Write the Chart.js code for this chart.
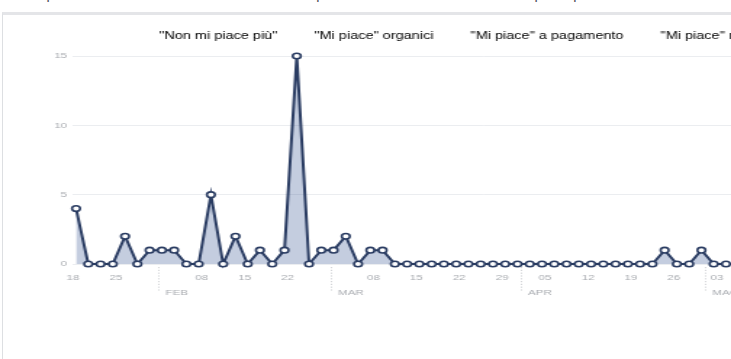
<!DOCTYPE html>
<html>
<head>
<meta charset="utf-8">
<script src="https://cdn.jsdelivr.net/npm/chart.js@4.4.1/dist/chart.umd.min.js"></script>
<style>
  body {
    margin: 0;
    width: 731px;
    height: 359px;
    overflow: hidden;
    position: relative;
    background: #fff;
    font-family: "Liberation Sans", Arial, sans-serif;
  }
  .title {
    position: absolute;
    left: 22px;
    top: -9.5px;
    font-size: 10px;
    line-height: 12px;
    color: #4b4f56;
    white-space: nowrap;
    transform: scaleX(1.45);
    transform-origin: left top;
  }
  .panel {
    position: absolute;
    left: 2px;
    top: 12px;
    width: 800px;
    height: 400px;
    border-top: 3px solid #e4e5e8;
    border-left: 1px solid #dddfe2;
  }
  .wrap {
    position: absolute;
    left: 0;
    top: 0;
  }
</style>
</head>
<body>
<div class="title">"Mi piace" netti: mostra il numero di nuovi "Mi piace" meno il numero di "Non mi piace più"</div>
<div class="panel"></div>
<!-- drawn at 626px wide, shown stretched to 908px -->
<div class="wrap"><canvas id="likes-chart" width="626" height="359" style="width:908px;height:359px"></canvas></div>

<script>
// one point every two days
const dates = [
    '2015-01-18', '2015-01-20', '2015-01-22', '2015-01-24', '2015-01-26', '2015-01-28', '2015-01-30',
    '2015-02-01', '2015-02-03', '2015-02-05', '2015-02-07', '2015-02-09', '2015-02-11', '2015-02-13',
    '2015-02-15', '2015-02-17', '2015-02-19', '2015-02-21', '2015-02-23', '2015-02-25', '2015-02-27',
    '2015-03-01', '2015-03-03', '2015-03-05', '2015-03-07', '2015-03-09', '2015-03-11', '2015-03-13',
    '2015-03-15', '2015-03-17', '2015-03-19', '2015-03-21', '2015-03-23', '2015-03-25', '2015-03-27',
    '2015-03-29', '2015-03-31', '2015-04-02', '2015-04-04', '2015-04-06', '2015-04-08', '2015-04-10',
    '2015-04-12', '2015-04-14', '2015-04-16', '2015-04-18', '2015-04-20', '2015-04-22', '2015-04-24',
    '2015-04-26', '2015-04-28', '2015-04-30', '2015-05-02', '2015-05-04', '2015-05-06'
];

const unlikes = [
    4, 0, 0, 0, 2, 0, 1,
    1, 1, 0, 0, 5, 0, 2,
    0, 1, 0, 1, 15, 0, 1,
    1, 2, 0, 1, 1, 0, 0,
    0, 0, 0, 0, 0, 0, 0,
    0, 0, 0, 0, 0, 0, 0,
    0, 0, 0, 0, 0, 0, 1,
    0, 0, 1, 0, 0, 0
];

const seriesNames = ['"Non mi piace più"', '"Mi piace" organici', '"Mi piace" a pagamento', '"Mi piace" netti'];

const monthStarts = ['2015-02-01', '2015-03-01', '2015-04-01', '2015-05-01'];
const monthNames = ['FEB', 'MAR', 'APR', 'MAG'];

const startTime = Date.parse(dates[0] + 'T00:00:00Z');
const DAY = 86400000;

function dayOffset(d, time) {
    return (Date.parse(d + 'T' + time + 'Z') - startTime) / DAY;
}

function pad2(n) {
    return (n < 10 ? '0' : '') + n;
}

const FONT = '"Liberation Sans", Arial, sans-serif';
Chart.defaults.font.family = FONT;

// dotted month separators with the month name under the week labels
const monthMarkers = {
    id: 'monthMarkers',
    afterDraw(chart) {
        const ctx = chart.ctx;
        const x = chart.scales.x;
        const bottom = chart.chartArea.bottom;
        ctx.save();
        monthStarts.forEach(function(d, i) {
            const px = Math.round(x.getPixelForValue(dayOffset(d, '00:00:00'))) + 0.5;
            ctx.strokeStyle = '#c9cbcf';
            ctx.lineWidth = 0.8;
            ctx.setLineDash([1.2, 1.6]);
            ctx.beginPath();
            ctx.moveTo(px, bottom + 3);
            ctx.lineTo(px, bottom + 27);
            ctx.stroke();
            ctx.fillStyle = '#a9acb1';
            ctx.font = '8px ' + FONT;
            ctx.textBaseline = 'middle';
            ctx.textAlign = 'left';
            ctx.fillText(monthNames[i], px + 4.5, bottom + 28.5);
        });
        ctx.restore();
    }
};

var ctx = document.getElementById('likes-chart');
var likesChart = new Chart(ctx, {
    type: 'line',
    data: {
        datasets: [{
            label: seriesNames[0],
            data: dates.map(function(d, i) {
                return {x: dayOffset(d, '12:00:00'), y: unlikes[i]};
            }),
            borderColor: '#2a3c62',
            borderWidth: 2,
            backgroundColor: 'rgba(60, 88, 148, 0.3)',
            fill: 'origin',
            tension: 0,
            pointRadius: 2.8,
            pointBorderWidth: 1.6,
            pointBackgroundColor: '#ffffff',
            pointBorderColor: '#2a3c62',
            clip: false
        }]
    },
    plugins: [monthMarkers],
    options: {
        responsive: false,
        animation: false,
        devicePixelRatio: 1,
        layout: {
            padding: {top: 5.5, left: 0, right: 0, bottom: 0}
        },
        plugins: {
            tooltip: {enabled: false},
            legend: {
                display: true,
                position: 'top',
                align: 'center',
                labels: {
                    boxWidth: 0,
                    boxHeight: 20,
                    padding: 20.5,
                    color: '#4b4f56',
                    font: {size: 10},
                    generateLabels: function() {
                        return seriesNames.map(function(name, i) {
                            return {
                                text: name,
                                fillStyle: 'rgba(0,0,0,0)',
                                strokeStyle: 'rgba(0,0,0,0)',
                                lineWidth: 0,
                                hidden: false,
                                datasetIndex: i
                            };
                        });
                    }
                }
            }
        },
        scales: {
            x: {
                type: 'linear',
                min: 0,
                max: 134,
                afterFit: function(scale) {
                    scale.height = 95;
                },
                grid: {display: false, drawTicks: false},
                border: {display: false},
                ticks: {
                    stepSize: 7,
                    includeBounds: false,
                    autoSkip: false,
                    maxRotation: 0,
                    padding: 9,
                    color: '#a9acb1',
                    font: {size: 8},
                    callback: function(value) {
                        const d = new Date(startTime + value * DAY);
                        // the month separator takes the place of the 1st
                        if (d.getUTCDate() === 1) {
                            return '';
                        }
                        return pad2(d.getUTCDate());
                    }
                }
            },
            y: {
                min: 0,
                max: 15,
                afterFit: function(scale) {
                    scale.width = 50.3;
                },
                grid: {color: '#ebedf0', lineWidth: 1, drawTicks: false},
                border: {display: false},
                ticks: {
                    stepSize: 5,
                    padding: 4,
                    color: '#a9acb1',
                    font: {size: 8}
                }
            }
        }
    }
});
</script>
</body>
</html>
